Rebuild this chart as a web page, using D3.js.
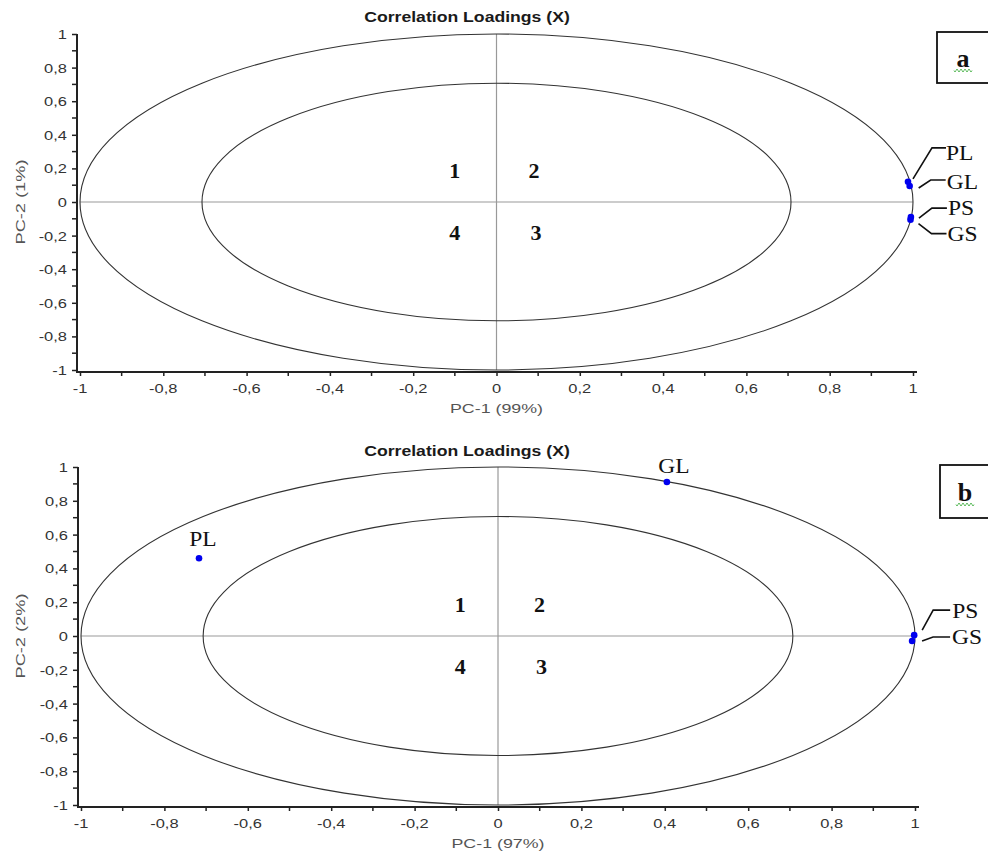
<!DOCTYPE html>
<html><head><meta charset="utf-8">
<script src="https://cdn.jsdelivr.net/npm/d3@7"></script>
<style>body{margin:0;background:#fff}svg{display:block}</style>
</head><body>
<svg id="c" width="988" height="854"></svg>
<script>
// ---- data ----
const chartTitle = "Correlation Loadings (X)";
const majorTicks = [-1, -0.8, -0.6, -0.4, -0.2, 0, 0.2, 0.4, 0.6, 0.8, 1];
const minorTicks = [-0.9, -0.7, -0.5, -0.3, -0.1, 0.1, 0.3, 0.5, 0.7, 0.9];
const circleRadii = [1, Math.SQRT1_2];
const varNames = ["PL", "GL", "PS", "GS"];
const pc1A = [0.988, 0.992, 0.995, 0.994];
const pc2A = [0.12, 0.095, -0.09, -0.105];
const pc1B = [-0.717, 0.405, 0.998, 0.993];
const pc2B = [0.46, 0.911, 0.005, -0.03];
const xTitleA = "PC-1 (99%)", yTitleA = "PC-2 (1%)";
const xTitleB = "PC-1 (97%)", yTitleB = "PC-2 (2%)";
const quadLabels = ["1", "2", "3", "4"];
const quadX = [-0.1, 0.09, 0.095, -0.1];
const quadY = [0.19, 0.19, -0.18, -0.18];
const panelTags = ["a", "b"];

const SANS = "Liberation Sans, Arial, sans-serif";
const SERIF = "Liberation Serif, Times New Roman, serif";
const fmt = v => String(v).replace(".", ",");
const svg = d3.select("#c");

function txt(g, x, y, s, o) {
  return g.append("text")
    .attr("transform", `translate(${x},${y})${o.rot ? " rotate(" + o.rot + ")" : ""} scale(${o.sx || 1},1)`)
    .attr("text-anchor", o.anchor || "start")
    .attr("font-family", o.family || SANS)
    .attr("font-weight", o.bold ? "bold" : "normal")
    .attr("font-size", o.size || 13)
    .attr("fill", o.fill || "#222")
    .text(s);
}

function panel(cfg) {
  const g = svg.append("g");
  const x = d3.scaleLinear().domain([-1, 1]).range(cfg.xr);
  const y = d3.scaleLinear().domain([-1, 1]).range(cfg.yr);
  // title
  txt(g, 467, cfg.titleY, chartTitle, { anchor: "middle", bold: true, size: 14, sx: 1.26, fill: "#1a1a1a" });
  // crosshair
  g.append("line").attr("x1", x(-1)).attr("x2", x(1)).attr("y1", y(0)).attr("y2", y(0))
    .attr("stroke", "#999").attr("stroke-width", 1.2);
  g.append("line").attr("x1", x(0)).attr("x2", x(0)).attr("y1", y(1)).attr("y2", y(-1))
    .attr("stroke", "#999").attr("stroke-width", 1.2);
  // ellipses
  circleRadii.forEach(r => {
    g.append("ellipse").attr("cx", x(0)).attr("cy", y(0))
      .attr("rx", x(r) - x(0)).attr("ry", y(0) - y(r))
      .attr("fill", "none").attr("stroke", "#333").attr("stroke-width", 1.1);
  });
  // axes
  const axX = cfg.xr[0] - 3, axY = cfg.yr[0] + 2;
  const xAxis = d3.axisBottom(x).tickValues(majorTicks).tickFormat("").tickSize(4);
  const yAxis = d3.axisLeft(y).tickValues(majorTicks).tickFormat("").tickSize(5);
  const gx = g.append("g").attr("transform", `translate(0,${axY})`).call(xAxis);
  gx.append("g").selectAll("line").data(minorTicks).join("line")
    .attr("x1", d => x(d)).attr("x2", d => x(d)).attr("y1", 0).attr("y2", 4)
    .attr("stroke", "#222").attr("stroke-width", 1.5);
  const gy = g.append("g").attr("transform", `translate(${axX},0)`).call(yAxis);
  gy.append("g").selectAll("line").data(minorTicks).join("line")
    .attr("x1", -5).attr("x2", 0).attr("y1", d => y(d)).attr("y2", d => y(d))
    .attr("stroke", "#222").attr("stroke-width", 1.5);
  [gx, gy].forEach(a => {
    a.select(".domain").remove();
    a.selectAll(".tick line").attr("stroke", "#222").attr("stroke-width", 1.5);
  });
  majorTicks.forEach(t => {
    txt(g, x(t), axY + 21, fmt(t), { anchor: "middle", size: 13.5, sx: 1.22, fill: "#333" });
    txt(g, axX - 10, y(t) + 5, fmt(t), { anchor: "end", size: 13.5, sx: 1.22, fill: "#333" });
  });
  g.append("line").attr("x1", axX).attr("x2", cfg.xr[1] + 4).attr("y1", axY).attr("y2", axY)
    .attr("stroke", "#222").attr("stroke-width", 2);
  g.append("line").attr("x1", axX).attr("x2", axX).attr("y1", y(1)).attr("y2", axY + 1)
    .attr("stroke", "#222").attr("stroke-width", 2);
  // axis titles
  txt(g, x(0), axY + 41, cfg.xTitle, { anchor: "middle", size: 13.5, sx: 1.32, fill: "#555" });
  txt(g, 25, y(0), cfg.yTitle, { anchor: "middle", size: 13.5, sx: 1.35, rot: -90, fill: "#555" });
  // quadrant numbers
  quadLabels.forEach((d, i) => {
    txt(g, x(quadX[i]) + (cfg.qdx || 0), y(quadY[i]) + 8, d,
      { anchor: "middle", family: SERIF, bold: true, size: 22, fill: "#111" });
  });
  // points
  g.selectAll(".p").data(varNames).join("circle")
    .attr("cx", (d, i) => x(cfg.px[i])).attr("cy", (d, i) => y(cfg.py[i]))
    .attr("r", 3.3).attr("fill", "#0000ee");
  // labels
  cfg.labels.forEach(L => {
    const i = varNames.indexOf(L.name);
    const px = x(cfg.px[i]), py = y(cfg.py[i]);
    if (L.leader) {
      g.append("path").attr("d", `M${px + L.leader[0]},${py + L.leader[1]}L${px + L.leader[2]},${py + L.leader[3]}H${px + L.leader[4]}`)
        .attr("fill", "none").attr("stroke", "#111").attr("stroke-width", 1.6);
    }
    txt(g, px + L.dx, py + L.dy, L.name, { anchor: L.anchor || "start", family: SERIF, size: 21, sx: 1.12, fill: "#111" });
  });
  // tag box
  g.append("rect").attr("x", cfg.box[0]).attr("y", cfg.box[1]).attr("width", cfg.box[2]).attr("height", cfg.box[3])
    .attr("fill", "#fff").attr("stroke", "#111").attr("stroke-width", 1.8);
  const tx = cfg.box[0] + cfg.box[2] / 2, ty = cfg.box[1] + cfg.box[3] / 2 + 9;
  txt(g, tx, ty, cfg.tag, { anchor: "middle", family: SERIF, bold: true, size: 26, fill: "#111" });
  let sq = `M${tx - 9},${ty + 4}`;
  for (let k = 0; k < 9; k++) sq += `l1,${k % 2 ? -1.5 : 1.5}l1,${k % 2 ? 1.5 : -1.5}`;
  g.append("path").attr("d", sq).attr("fill", "none").attr("stroke", "#3a3").attr("stroke-width", 0.8);
}

panel({
  xr: [80, 913], yr: [370, 34], titleY: 22, xTitle: xTitleA, yTitle: yTitleA, tag: panelTags[0],
  px: pc1A, py: pc2A, box: [937, 32, 52, 51],
  labels: [
    { name: "PL", dx: 38, dy: -22, leader: [5, -3, 24, -34, 38] },
    { name: "GL", dx: 37, dy: 3, leader: [9, 2, 21, -6, 36] },
    { name: "PS", dx: 37, dy: -2, leader: [8, 1, 21, -9, 36] },
    { name: "GS", dx: 37, dy: 21, leader: [8, 4, 21, 14, 36] }
  ]
});
panel({
  xr: [81, 915], yr: [805, 467], titleY: 456, xTitle: xTitleB, yTitle: yTitleB, tag: panelTags[1],
  px: pc1B, py: pc2B, box: [940, 465, 50, 53], qdx: 4,
  labels: [
    { name: "PL", dx: 4, dy: -12, anchor: "middle" },
    { name: "GL", dx: 7, dy: -9, anchor: "middle" },
    { name: "PS", dx: 38, dy: -17, leader: [8, -5, 19, -25, 36] },
    { name: "GS", dx: 40, dy: 3, leader: [10, 0, 21, -4, 38] }
  ]
});
</script>
</body></html>
